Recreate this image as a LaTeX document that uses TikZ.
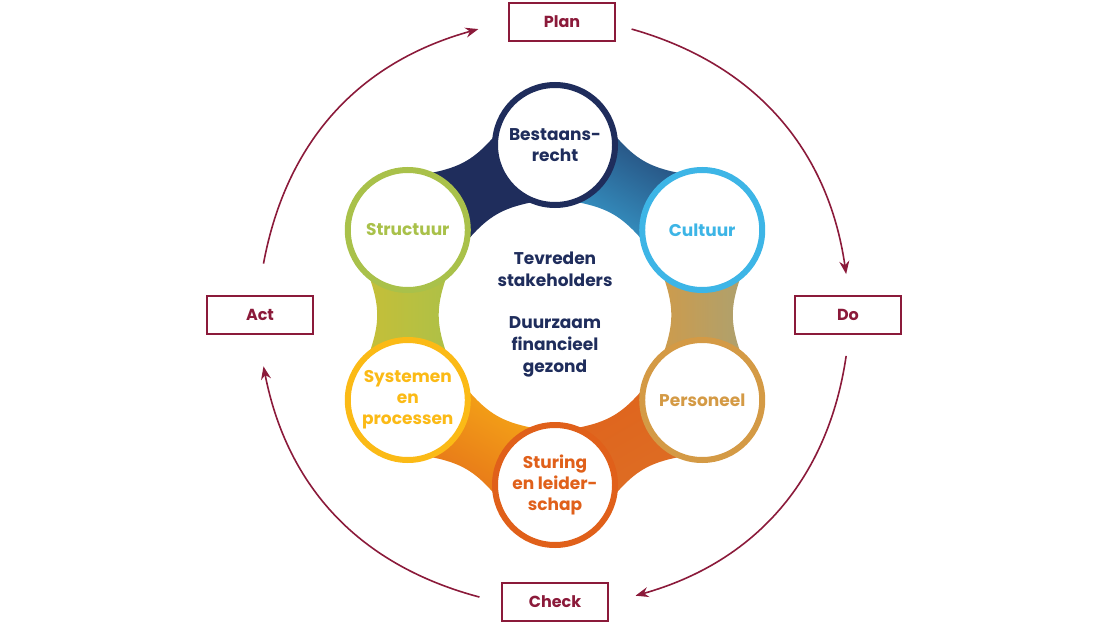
\documentclass[tikz,border=0pt]{standalone}
\usepackage{fontspec}
\setmainfont{Poppins}
\usetikzlibrary{calc,arrows.meta}
\definecolor{navy}{HTML}{1F2D5C}
\definecolor{sky}{HTML}{3DB5E6}
\definecolor{tan}{HTML}{D49A45}
\definecolor{rust}{HTML}{E0601A}
\definecolor{gold}{HTML}{FBBA16}
\definecolor{lime}{HTML}{A9C14A}
\definecolor{wine}{HTML}{8B1A3A}
\begin{document}
\begin{tikzpicture}[x=1pt,y=1pt,
  pillar/.style={draw=#1,line width=6pt,circle,fill=white,minimum size=120pt,
    inner sep=0pt,align=center,text=#1,font=\fontsize{17}{21}\selectfont\bfseries},
  phase/.style={draw=wine,line width=1.6pt,minimum width=106pt,minimum height=38pt,
    text=wine,font=\fontsize{16}{20}\selectfont\bfseries},
  cycle/.style={draw=wine,line width=1.6pt,-{Stealth[length=13pt,width=10pt]}}]
\useasboundingbox (0,0) rectangle (1110,625);

\coordinate (mid) at (555,310);

% six pillars around the centre
\foreach \i/\a in {1/90,2/30,3/-30,4/-90,5/-150,6/150}
{
  \coordinate (c\i) at ($(mid)+(\a:170)$);
}

% bridges between neighbours
\foreach \i/\j/\m/\ca/\cb in {1/2/60/navy/sky,2/3/0/sky!30!tan/tan,3/4/-60/rust!70!tan/rust,
  4/5/-120/rust/gold,5/6/180/gold!40!lime/lime,6/1/120/navy/navy}
{
  \coordinate (m\i) at ($(mid)+(\m:147)$);
  \pgfmathsetmacro{\sa}{\m+90}
  \shade[left color=\cb,right color=\ca,shading angle=\sa]
    ($(c\i)+(\m:57)$) .. controls ($(m\i)+(\m:22)$) and ($(m\i)+(\m:22)$) .. ($(c\j)+(\m:57)$)
    -- ($(c\j)+(\m:-57)$) .. controls ($(m\i)+(\m:-22)$) and ($(m\i)+(\m:-22)$) .. ($(c\i)+(\m:-57)$) -- cycle;
}

\node[pillar=navy] (bestaan) at (c1) {Bestaans-\\recht};
\node[pillar=sky] (cultuur) at (c2) {Cultuur};
\node[pillar=tan] (personeel) at (c3) {Personeel};
\node[pillar=rust] (sturing) at (c4) {Sturing\\en leider-\\schap};
\node[pillar=gold] (systemen) at (c5) {Systemen\\en\\processen};
\node[pillar=lime] (structuur) at (c6) {Structuur};

\node[align=center,text=navy,font=\fontsize{17}{22}\selectfont\bfseries] (goal) at (mid)
  {Tevreden\\stakeholders\\[20pt]Duurzaam\\financieel\\gezond};

% plan-do-check-act
\node[phase] (plan) at (562,603) {Plan};
\node[phase] (do) at (848,310) {Do};
\node[phase] (check) at (555,23) {Check};
\node[phase] (act) at (260,310) {Act};

\coordinate (p1) at ($(mid)+(75:296)$);
\coordinate (p2) at ($(mid)+(8:294)$);
\coordinate (p3) at ($(mid)+(-8:294)$);
\coordinate (p4) at ($(mid)+(-74:292)$);
\coordinate (p5) at ($(mid)+(-105:292)$);
\coordinate (p6) at ($(mid)+(-170:296)$);
\coordinate (p7) at ($(mid)+(170:296)$);
\coordinate (p8) at ($(mid)+(105:296)$);

\draw[cycle] (p1) to[bend left=33] (p2);
\draw[cycle] (p3) to[bend left=33] (p4);
\draw[cycle] (p5) to[bend left=32] (p6);
\draw[cycle] (p7) to[bend left=32] (p8);
\end{tikzpicture}
\end{document}
